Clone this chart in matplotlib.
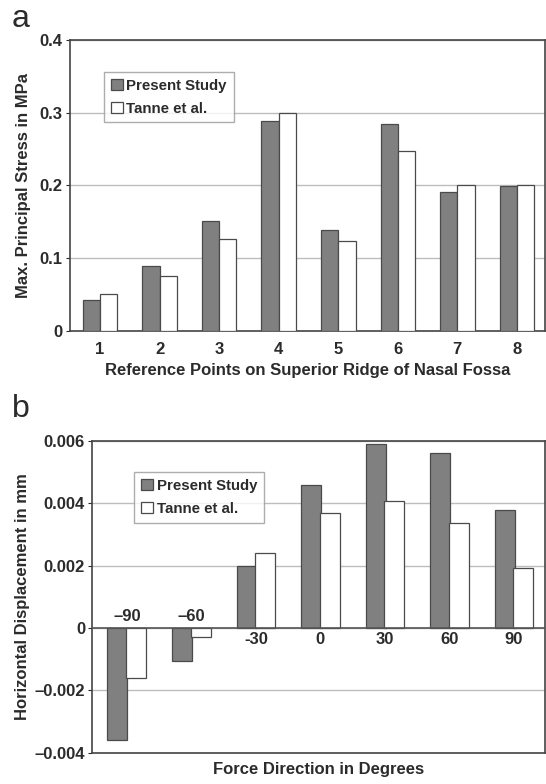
import numpy as np
import matplotlib
matplotlib.use("Agg")
import matplotlib.pyplot as plt

plt.rcParams['font.family'] = ['Liberation Sans', 'DejaVu Sans']

# panel a data
points = ['1', '2', '3', '4', '5', '6', '7', '8']
stress_present = [0.043, 0.089, 0.151, 0.288, 0.139, 0.284, 0.191, 0.199]
stress_tanne = [0.051, 0.076, 0.126, 0.300, 0.123, 0.248, 0.200, 0.200]

# panel b data
directions = ['–90', '–60', '-30', '0', '30', '60', '90']
disp_present = [-0.0036, -0.00105, 0.0020, 0.0046, 0.0059, 0.00562, 0.0038]
disp_tanne = [-0.0016, -0.0003, 0.0024, 0.00368, 0.00408, 0.00337, 0.00193]

txt = '#2b2b2b'
dark = '#808080'
edge = '#4a4a4a'
grid = '#bdbdbd'
w = 0.29
fs_tick = 12
fs_lab = 12

fig = plt.figure(figsize=(5.46, 7.84), dpi=100)

# ---- panel a ----
ax1 = fig.add_axes([0.1275, 0.578, 0.8705, 0.371])
x1 = np.arange(1, len(points) + 1)
ax1.bar(x1 - w / 2, stress_present, w, color=dark, edgecolor=edge, lw=0.9,
        label='Present Study', zorder=3)
ax1.bar(x1 + w / 2, stress_tanne, w, color='white', edgecolor=edge, lw=0.9,
        label='Tanne et al.', zorder=3)
ax1.set_xlim(0.49, 8.47)
ax1.set_ylim(0, 0.4)
ax1.set_yticks([0, 0.1, 0.2, 0.3, 0.4])
ax1.set_yticklabels(['0', '0.1', '0.2', '0.3', '0.4'])
ax1.set_xticks(x1)
ax1.set_xticklabels(points)
ax1.yaxis.grid(True, color=grid, lw=1.0, zorder=0)
ax1.tick_params(axis='x', length=0, pad=8)
ax1.set_xlabel('Reference Points on Superior Ridge of Nasal Fossa',
               fontsize=fs_lab, fontweight='bold', color=txt, labelpad=4)
ax1.set_ylabel('Max. Principal Stress in MPa', fontsize=fs_lab,
               fontweight='bold', color=txt, labelpad=6)
leg1 = ax1.legend(loc='upper left', bbox_to_anchor=(0.072, 0.89),
                  fontsize=10.8, frameon=True, fancybox=False, handlelength=0.8,
                  handleheight=0.8, handletextpad=0.25, borderpad=0.45,
                  labelspacing=0.6, borderaxespad=0)
leg1.get_frame().set_edgecolor('#999999')
for t in leg1.get_texts():
    t.set_fontweight('bold')
    t.set_color(txt)

# ---- panel b ----
ax2 = fig.add_axes([0.1685, 0.04, 0.8295, 0.3975])
x2 = np.arange(len(directions))
ax2.bar(x2 - w / 2, disp_present, w + 0.02, color=dark, edgecolor=edge,
        lw=0.9, label='Present Study', zorder=3)
ax2.bar(x2 + w / 2, disp_tanne, w + 0.02, color='white', edgecolor=edge,
        lw=0.9, label='Tanne et al.', zorder=3)
ax2.set_xlim(-0.54, 6.48)
ax2.set_ylim(-0.004, 0.006)
ax2.set_yticks([-0.004, -0.002, 0, 0.002, 0.004, 0.006])
ax2.set_yticklabels(['–0.004', '–0.002', '0', '0.002', '0.004', '0.006'])
ax2.set_xticks([])
ax2.yaxis.grid(True, color=grid, lw=1.0, zorder=0)
ax2.axhline(0, color='#555555', lw=1.2, zorder=4)
for xi, lab, v in zip(x2, directions, disp_present):
    if v < 0:
        ax2.text(xi, 0.00012, lab, ha='center', va='bottom', fontsize=fs_tick,
                 fontweight='bold', color=txt, zorder=5)
    else:
        ax2.text(xi, -0.00012, lab, ha='center', va='top', fontsize=fs_tick,
                 fontweight='bold', color=txt, zorder=5)
ax2.set_xlabel('Force Direction in Degrees', fontsize=fs_lab,
               fontweight='bold', color=txt, labelpad=7)
ax2.set_ylabel('Horizontal Displacement in mm', fontsize=fs_lab,
               fontweight='bold', color=txt, labelpad=3)
leg2 = ax2.legend(loc='upper left', bbox_to_anchor=(0.093, 0.9),
                  fontsize=10.8, frameon=True, fancybox=False, handlelength=0.8,
                  handleheight=0.8, handletextpad=0.25, borderpad=0.45,
                  labelspacing=0.6, borderaxespad=0)
leg2.get_frame().set_edgecolor('#999999')
for t in leg2.get_texts():
    t.set_fontweight('bold')
    t.set_color(txt)

for ax in (ax1, ax2):
    for s in ax.spines.values():
        s.set_color('#444444')
        s.set_linewidth(1.2)
    ax.tick_params(axis='y', length=3, width=0.8, color='#666666', pad=2)
    ax.tick_params(colors=txt, which='both')
    for lab in ax.get_xticklabels() + ax.get_yticklabels():
        lab.set_fontweight('bold')
        lab.set_fontsize(fs_tick)

fig.text(0.022, 0.995, 'a', fontsize=23, va='top', ha='left', color=txt)
fig.text(0.022, 0.497, 'b', fontsize=23, va='top', ha='left', color=txt)

fig.savefig('out.png', dpi=100, facecolor='white')
